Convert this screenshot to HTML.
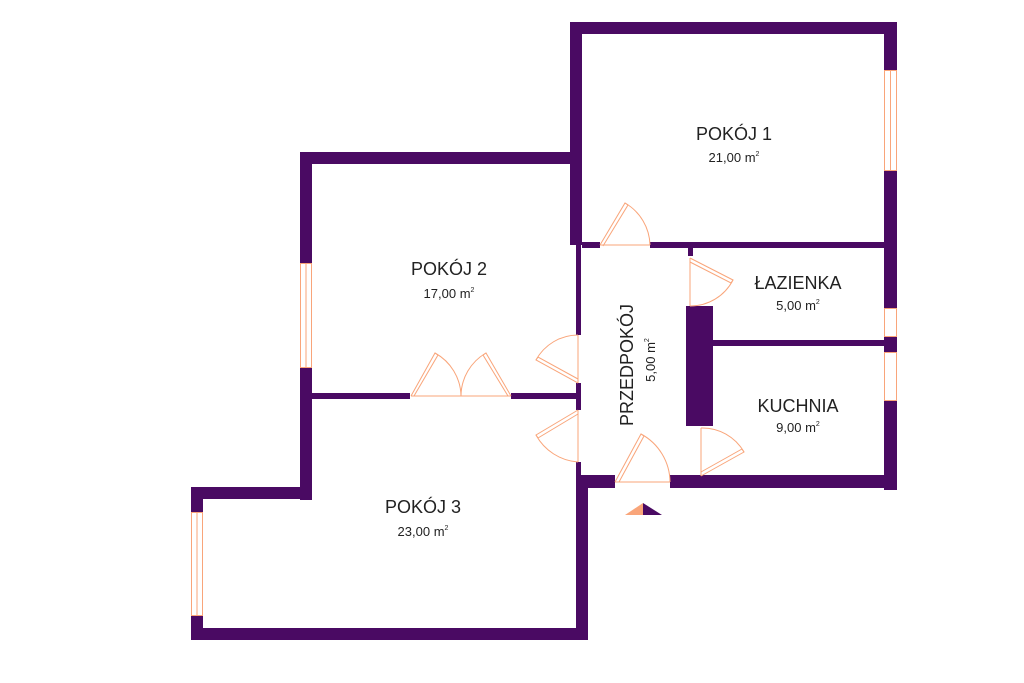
<!DOCTYPE html>
<html><head><style>body{margin:0;background:#fff}svg{display:block}text{font-family:"Liberation Sans",sans-serif;fill:#222}</style></head><body>
<svg width="1024" height="683" viewBox="0 0 1024 683" xmlns="http://www.w3.org/2000/svg">
<g fill="#4a0a63">
<rect x="570" y="22" width="327" height="12"/>
<rect x="570" y="22" width="12" height="223"/>
<rect x="884" y="22" width="13" height="48"/>
<rect x="884" y="170" width="13" height="138"/>
<rect x="884" y="336" width="13" height="16"/>
<rect x="884" y="400" width="13" height="90"/>
<rect x="582" y="242" width="18" height="6"/>
<rect x="650" y="242" width="234" height="6"/>
<rect x="300" y="152" width="282" height="12"/>
<rect x="300" y="152" width="12" height="111"/>
<rect x="300" y="367" width="12" height="133"/>
<rect x="312" y="393" width="98" height="6"/>
<rect x="511" y="393" width="67" height="6"/>
<rect x="576" y="164" width="5" height="171"/>
<rect x="576" y="383" width="5" height="27"/>
<rect x="576" y="462" width="5" height="26"/>
<rect x="576" y="475" width="39" height="13"/>
<rect x="670" y="475" width="227" height="13"/>
<rect x="191" y="487" width="121" height="12"/>
<rect x="191" y="487" width="12" height="25"/>
<rect x="191" y="615" width="12" height="25"/>
<rect x="191" y="628" width="397" height="12"/>
<rect x="576" y="487" width="12" height="153"/>
<rect x="686" y="306" width="27" height="120"/>
<rect x="713" y="340" width="171" height="6"/>
<rect x="688" y="248" width="5" height="8"/>
</g>
<g fill="none" stroke="#f9a57a" stroke-width="1">
<rect x="884.5" y="70.5" width="12" height="100"/>
<line x1="890.5" y1="70" x2="890.5" y2="170"/>
<rect x="884.5" y="308.5" width="12" height="28"/>
<rect x="884.5" y="352.5" width="12" height="48"/>
<rect x="300.5" y="263.5" width="11" height="104"/>
<line x1="306" y1="263" x2="306" y2="367"/>
<rect x="191.5" y="512.5" width="11" height="103"/>
<line x1="197" y1="512" x2="197" y2="615"/>
<!-- P1 door -->
<line x1="600" y1="245" x2="650" y2="245"/>
<path d="M600 245 L625 203 L628 205 L603 246"/><path d="M625 203 A50 50 0 0 1 650 245"/>
<!-- lazienka door -->
<line x1="690" y1="258" x2="690" y2="306"/>
<path d="M690 258 L733 280 L731 283 L690 262"/><path d="M733 280 A48 48 0 0 1 690 306"/>
<!-- kuchnia door -->
<line x1="701" y1="428" x2="701" y2="476"/>
<path d="M701 476 L744 452 L742 449 L701 472"/><path d="M701 428 A48 48 0 0 1 744 452"/>
<!-- entry -->
<line x1="615" y1="482" x2="670" y2="482"/>
<path d="M615 482 L641 434 L644 436 L619 482"/><path d="M641 434 A55 55 0 0 1 670 482"/>
<!-- hall left doors -->
<line x1="578" y1="335" x2="578" y2="383"/>
<path d="M578 383 L536 360 L538 357 L578 379"/><path d="M536 360 A48 48 0 0 1 578 335"/>
<line x1="578" y1="410" x2="578" y2="462"/>
<path d="M578 410 L536 435 L538 438 L578 414"/><path d="M536 435 A52 52 0 0 0 578 462"/>
<!-- double doors -->
<line x1="411" y1="396" x2="511" y2="396"/>
<path d="M411 396 L435 353 L438 355 L414 396"/><path d="M435 353 A50 50 0 0 1 461 396"/>
<path d="M511 396 L486 353 L483 355 L508 396"/><path d="M486 353 A50 50 0 0 0 461 396"/>
</g>
<polygon points="625,515 643,503 643,515" fill="#f9a57a"/>
<polygon points="643,503 662,515 643,515" fill="#4a0a63"/>
<g text-anchor="middle">
<text x="734" y="140" font-size="18">POKÓJ 1</text>
<text x="734" y="162" font-size="13">21,00 m<tspan font-size="7" dy="-6">2</tspan></text>
<text x="449" y="275" font-size="18">POKÓJ 2</text>
<text x="449" y="298" font-size="13">17,00 m<tspan font-size="7" dy="-6">2</tspan></text>
<text x="423" y="513" font-size="18">POKÓJ 3</text>
<text x="423" y="536" font-size="13">23,00 m<tspan font-size="7" dy="-6">2</tspan></text>
<text x="798" y="289" font-size="18">ŁAZIENKA</text>
<text x="798" y="310" font-size="13">5,00 m<tspan font-size="7" dy="-6">2</tspan></text>
<text x="798" y="412" font-size="18">KUCHNIA</text>
<text x="798" y="432" font-size="13">9,00 m<tspan font-size="7" dy="-6">2</tspan></text>
<text transform="translate(633,365) rotate(-90)" font-size="18">PRZEDPOKÓJ</text>
<text transform="translate(655,360) rotate(-90)" font-size="13">5,00 m<tspan font-size="7" dy="-6">2</tspan></text>
</g>
</svg>
</body></html>
